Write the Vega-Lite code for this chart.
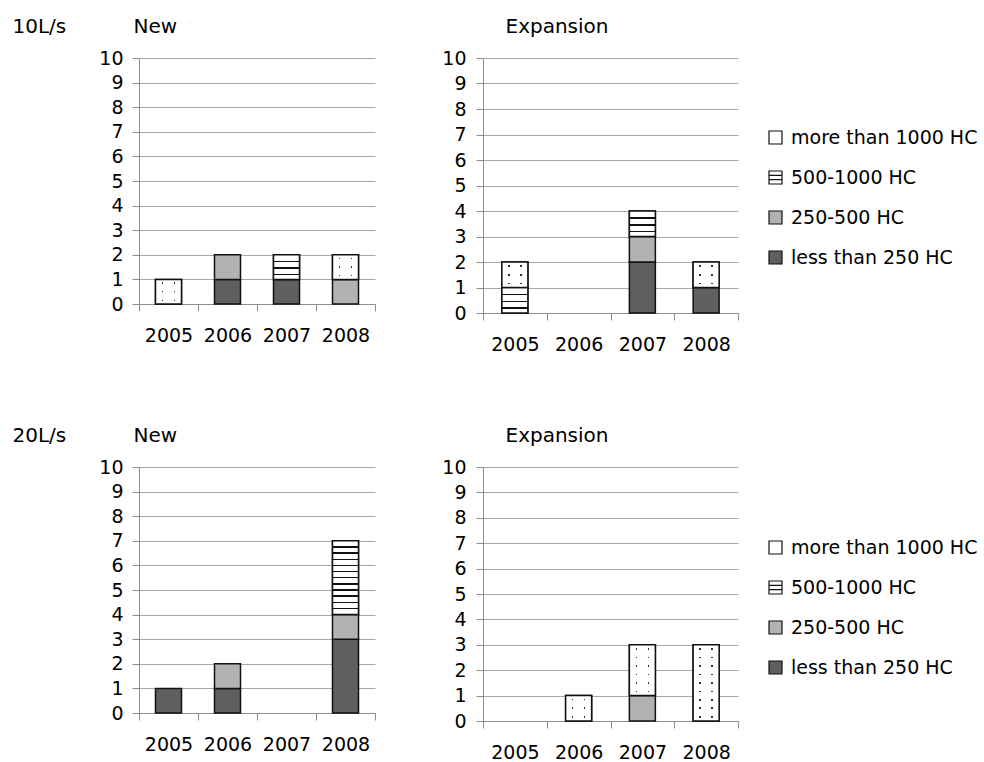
{
  "$schema": "https://vega.github.io/schema/vega-lite/v6.json",
  "padding": {"left": 12, "top": 16, "right": 10, "bottom": 0},
  "autosize": {"type": "pad"},
  "datasets": {
    "counts": [
      {"size": "10L/s", "kind": "New", "year": "2005", "cat": "more than 1000 HC", "n": 1},
      {"size": "10L/s", "kind": "New", "year": "2006", "cat": "less than 250 HC", "n": 1},
      {"size": "10L/s", "kind": "New", "year": "2006", "cat": "250-500 HC", "n": 1},
      {"size": "10L/s", "kind": "New", "year": "2007", "cat": "less than 250 HC", "n": 1},
      {"size": "10L/s", "kind": "New", "year": "2007", "cat": "500-1000 HC", "n": 1},
      {"size": "10L/s", "kind": "New", "year": "2008", "cat": "250-500 HC", "n": 1},
      {"size": "10L/s", "kind": "New", "year": "2008", "cat": "more than 1000 HC", "n": 1},
      {"size": "10L/s", "kind": "Expansion", "year": "2005", "cat": "500-1000 HC", "n": 1},
      {"size": "10L/s", "kind": "Expansion", "year": "2005", "cat": "more than 1000 HC", "n": 1},
      {"size": "10L/s", "kind": "Expansion", "year": "2007", "cat": "less than 250 HC", "n": 2},
      {"size": "10L/s", "kind": "Expansion", "year": "2007", "cat": "250-500 HC", "n": 1},
      {"size": "10L/s", "kind": "Expansion", "year": "2007", "cat": "500-1000 HC", "n": 1},
      {"size": "10L/s", "kind": "Expansion", "year": "2008", "cat": "less than 250 HC", "n": 1},
      {"size": "10L/s", "kind": "Expansion", "year": "2008", "cat": "more than 1000 HC", "n": 1},
      {"size": "20L/s", "kind": "New", "year": "2005", "cat": "less than 250 HC", "n": 1},
      {"size": "20L/s", "kind": "New", "year": "2006", "cat": "less than 250 HC", "n": 1},
      {"size": "20L/s", "kind": "New", "year": "2006", "cat": "250-500 HC", "n": 1},
      {"size": "20L/s", "kind": "New", "year": "2008", "cat": "less than 250 HC", "n": 3},
      {"size": "20L/s", "kind": "New", "year": "2008", "cat": "250-500 HC", "n": 1},
      {"size": "20L/s", "kind": "New", "year": "2008", "cat": "500-1000 HC", "n": 3},
      {"size": "20L/s", "kind": "Expansion", "year": "2006", "cat": "more than 1000 HC", "n": 1},
      {"size": "20L/s", "kind": "Expansion", "year": "2007", "cat": "250-500 HC", "n": 1},
      {"size": "20L/s", "kind": "Expansion", "year": "2007", "cat": "more than 1000 HC", "n": 2},
      {"size": "20L/s", "kind": "Expansion", "year": "2008", "cat": "more than 1000 HC", "n": 3}
    ]
  },
  "columns": 2,
  "bounds": "flush",
  "spacing": {"row": 154, "column": 108},
  "resolve": {
    "scale": {"x": "independent", "y": "independent", "fill": "independent"},
    "legend": {"fill": "independent"}
  },
  "concat": [
    {
      "width": 236,
      "height": 246,
      "data": {"name": "counts"},
      "transform": [
        {"filter": "datum.size == '10L/s' && datum.kind == 'New'"},
        {"calculate": "indexof(['less than 250 HC', '250-500 HC', '500-1000 HC', 'more than 1000 HC'], datum.cat)", "as": "rank"},
        {"stack": "n", "groupby": ["year"], "sort": [{"field": "rank", "order": "ascending"}], "as": ["y0", "y1"]}
      ],
      "encoding": {
        "x": {
          "field": "year", "type": "nominal",
          "scale": {"domain": ["2005", "2006", "2007", "2008"], "paddingInner": 0, "paddingOuter": 0},
          "axis": {"title": "New", "titleX": -6, "titleY": -272, "titleAlign": "left", "titleBaseline": "alphabetic", "labelAngle": 0, "labelPadding": 15, "tickBand": "extent", "grid": false}
        },
        "y": {
          "field": "y0", "type": "quantitative",
          "scale": {"domain": [0, 10], "nice": false},
          "axis": {"title": "10L/s", "titleX": -127, "titleY": -26, "titleAngle": 0, "titleAlign": "left", "titleBaseline": "alphabetic", "values": [0, 1, 2, 3, 4, 5, 6, 7, 8, 9, 10], "labelOverlap": false, "labelPadding": 9, "grid": true}
        },
        "y2": {"field": "y1"}
      },
      "layer": [
        {
          "mark": {"type": "bar", "width": 26, "stroke": "#111111", "strokeWidth": 1.5},
          "encoding": {
            "fill": {
              "field": "cat", "type": "nominal",
              "scale": {"domain": ["more than 1000 HC", "500-1000 HC", "250-500 HC", "less than 250 HC"], "range": ["#ffffff", "#ffffff", "#b2b2b2", "#5f5f5f"]},
              "legend": null
            }
          }
        },
        {
          "transform": [{"filter": "datum.cat == '500-1000 HC'"}],
          "mark": {"type": "bar", "width": 26, "stroke": "#111111", "strokeWidth": 1.5},
          "encoding": {
            "fill": {
              "value": {"gradient": "linear", "x1": 0, "y1": 0, "x2": 0, "y2": 1, "stops": [
                {"offset": 0, "color": "#ffffff"}, {"offset": 0.24, "color": "#ffffff"}, {"offset": 0.24, "color": "#111111"}, {"offset": 0.3, "color": "#111111"}, {"offset": 0.3, "color": "#ffffff"},
                {"offset": 0.51, "color": "#ffffff"}, {"offset": 0.51, "color": "#111111"}, {"offset": 0.57, "color": "#111111"}, {"offset": 0.57, "color": "#ffffff"},
                {"offset": 0.78, "color": "#ffffff"}, {"offset": 0.78, "color": "#111111"}, {"offset": 0.84, "color": "#111111"}, {"offset": 0.84, "color": "#ffffff"},
                {"offset": 1, "color": "#ffffff"}]}
            }
          }
        },
        {
          "transform": [{"filter": "datum.cat == 'more than 1000 HC'"}],
          "mark": {"type": "bar", "width": 26, "strokeWidth": 0},
          "encoding": {
            "fill": {
              "value": {"gradient": "linear", "x1": 0, "y1": 0, "x2": 0, "y2": 1, "stops": [
                {"offset": 0, "color": "#ffffff"}, {"offset": 0.118, "color": "#ffffff"}, {"offset": 0.118, "color": "#333333"}, {"offset": 0.182, "color": "#333333"}, {"offset": 0.182, "color": "#ffffff"},
                {"offset": 0.468, "color": "#ffffff"}, {"offset": 0.468, "color": "#333333"}, {"offset": 0.532, "color": "#333333"}, {"offset": 0.532, "color": "#ffffff"},
                {"offset": 0.818, "color": "#ffffff"}, {"offset": 0.818, "color": "#333333"}, {"offset": 0.882, "color": "#333333"}, {"offset": 0.882, "color": "#ffffff"},
                {"offset": 1, "color": "#ffffff"}]}
            }
          }
        },
        {
          "transform": [{"filter": "datum.cat == 'more than 1000 HC'"}],
          "mark": {"type": "bar", "width": 26, "stroke": "#111111", "strokeWidth": 1.5},
          "encoding": {
            "fill": {
              "value": {"gradient": "linear", "x1": 0, "y1": 0, "x2": 1, "y2": 0, "stops": [
                {"offset": 0, "color": "#ffffff"}, {"offset": 0.24, "color": "#ffffff"}, {"offset": 0.24, "color": "rgba(255,255,255,0)"}, {"offset": 0.3, "color": "rgba(255,255,255,0)"}, {"offset": 0.3, "color": "#ffffff"},
                {"offset": 0.7, "color": "#ffffff"}, {"offset": 0.7, "color": "rgba(255,255,255,0)"}, {"offset": 0.76, "color": "rgba(255,255,255,0)"}, {"offset": 0.76, "color": "#ffffff"},
                {"offset": 1, "color": "#ffffff"}]}
            }
          }
        }
      ]
    },
    {
      "width": 255,
      "height": 255,
      "data": {"name": "counts"},
      "transform": [
        {"filter": "datum.size == '10L/s' && datum.kind == 'Expansion'"},
        {"calculate": "indexof(['less than 250 HC', '250-500 HC', '500-1000 HC', 'more than 1000 HC'], datum.cat)", "as": "rank"},
        {"stack": "n", "groupby": ["year"], "sort": [{"field": "rank", "order": "ascending"}], "as": ["y0", "y1"]}
      ],
      "encoding": {
        "x": {
          "field": "year", "type": "nominal",
          "scale": {"domain": ["2005", "2006", "2007", "2008"], "paddingInner": 0, "paddingOuter": 0},
          "axis": {"title": "Expansion", "titleX": 22, "titleY": -281, "titleAlign": "left", "titleBaseline": "alphabetic", "labelAngle": 0, "labelPadding": 15, "tickBand": "extent", "grid": false}
        },
        "y": {
          "field": "y0", "type": "quantitative",
          "scale": {"domain": [0, 10], "nice": false},
          "axis": {"title": null, "values": [0, 1, 2, 3, 4, 5, 6, 7, 8, 9, 10], "labelOverlap": false, "labelPadding": 10, "grid": true}
        },
        "y2": {"field": "y1"}
      },
      "layer": [
        {
          "mark": {"type": "bar", "width": 26, "stroke": "#111111", "strokeWidth": 1.5},
          "encoding": {
            "fill": {
              "field": "cat", "type": "nominal",
              "scale": {"domain": ["more than 1000 HC", "500-1000 HC", "250-500 HC", "less than 250 HC"], "range": ["#ffffff", "#ffffff", "#b2b2b2", "#5f5f5f"]},
              "legend": {
                "orient": "none", "legendX": 283, "legendY": 70, "title": null,
                "symbolType": "square", "symbolSize": 169, "symbolStrokeColor": "#111111", "symbolStrokeWidth": 1.2,
                "labelFontSize": 19, "labelColor": "#000000", "labelOffset": 6, "labelLimit": 400, "rowPadding": 20,
                "encode": {"symbols": {"update": {
                  "stroke": {"value": "#111111"},
                  "strokeWidth": {"value": 1.2},
                  "shape": {"signal": "datum.value === '500-1000 HC' ? 'M-1,-1H1V1H-1Z M-1,-0.33H1 M-1,0.33H1' : 'square'"}
                }}}
              }
            }
          }
        },
        {
          "transform": [{"filter": "datum.cat == '500-1000 HC'"}],
          "mark": {"type": "bar", "width": 26, "stroke": "#111111", "strokeWidth": 1.5},
          "encoding": {
            "fill": {
              "value": {"gradient": "linear", "x1": 0, "y1": 0, "x2": 0, "y2": 1, "stops": [
                {"offset": 0, "color": "#ffffff"}, {"offset": 0.24, "color": "#ffffff"}, {"offset": 0.24, "color": "#111111"}, {"offset": 0.3, "color": "#111111"}, {"offset": 0.3, "color": "#ffffff"},
                {"offset": 0.51, "color": "#ffffff"}, {"offset": 0.51, "color": "#111111"}, {"offset": 0.57, "color": "#111111"}, {"offset": 0.57, "color": "#ffffff"},
                {"offset": 0.78, "color": "#ffffff"}, {"offset": 0.78, "color": "#111111"}, {"offset": 0.84, "color": "#111111"}, {"offset": 0.84, "color": "#ffffff"},
                {"offset": 1, "color": "#ffffff"}]}
            }
          }
        },
        {
          "transform": [{"filter": "datum.cat == 'more than 1000 HC'"}],
          "mark": {"type": "bar", "width": 26, "strokeWidth": 0},
          "encoding": {
            "fill": {
              "value": {"gradient": "linear", "x1": 0, "y1": 0, "x2": 0, "y2": 1, "stops": [
                {"offset": 0, "color": "#ffffff"}, {"offset": 0.118, "color": "#ffffff"}, {"offset": 0.118, "color": "#333333"}, {"offset": 0.182, "color": "#333333"}, {"offset": 0.182, "color": "#ffffff"},
                {"offset": 0.468, "color": "#ffffff"}, {"offset": 0.468, "color": "#333333"}, {"offset": 0.532, "color": "#333333"}, {"offset": 0.532, "color": "#ffffff"},
                {"offset": 0.818, "color": "#ffffff"}, {"offset": 0.818, "color": "#333333"}, {"offset": 0.882, "color": "#333333"}, {"offset": 0.882, "color": "#ffffff"},
                {"offset": 1, "color": "#ffffff"}]}
            }
          }
        },
        {
          "transform": [{"filter": "datum.cat == 'more than 1000 HC'"}],
          "mark": {"type": "bar", "width": 26, "stroke": "#111111", "strokeWidth": 1.5},
          "encoding": {
            "fill": {
              "value": {"gradient": "linear", "x1": 0, "y1": 0, "x2": 1, "y2": 0, "stops": [
                {"offset": 0, "color": "#ffffff"}, {"offset": 0.24, "color": "#ffffff"}, {"offset": 0.24, "color": "rgba(255,255,255,0)"}, {"offset": 0.3, "color": "rgba(255,255,255,0)"}, {"offset": 0.3, "color": "#ffffff"},
                {"offset": 0.7, "color": "#ffffff"}, {"offset": 0.7, "color": "rgba(255,255,255,0)"}, {"offset": 0.76, "color": "rgba(255,255,255,0)"}, {"offset": 0.76, "color": "#ffffff"},
                {"offset": 1, "color": "#ffffff"}]}
            }
          }
        }
      ]
    },
    {
      "width": 236,
      "height": 246,
      "data": {"name": "counts"},
      "transform": [
        {"filter": "datum.size == '20L/s' && datum.kind == 'New'"},
        {"calculate": "indexof(['less than 250 HC', '250-500 HC', '500-1000 HC', 'more than 1000 HC'], datum.cat)", "as": "rank"},
        {"stack": "n", "groupby": ["year"], "sort": [{"field": "rank", "order": "ascending"}], "as": ["y0", "y1"]}
      ],
      "encoding": {
        "x": {
          "field": "year", "type": "nominal",
          "scale": {"domain": ["2005", "2006", "2007", "2008"], "paddingInner": 0, "paddingOuter": 0},
          "axis": {"title": "New", "titleX": -6, "titleY": -272, "titleAlign": "left", "titleBaseline": "alphabetic", "labelAngle": 0, "labelPadding": 15, "tickBand": "extent", "grid": false}
        },
        "y": {
          "field": "y0", "type": "quantitative",
          "scale": {"domain": [0, 10], "nice": false},
          "axis": {"title": "20L/s", "titleX": -127, "titleY": -26, "titleAngle": 0, "titleAlign": "left", "titleBaseline": "alphabetic", "values": [0, 1, 2, 3, 4, 5, 6, 7, 8, 9, 10], "labelOverlap": false, "labelPadding": 9, "grid": true}
        },
        "y2": {"field": "y1"}
      },
      "layer": [
        {
          "mark": {"type": "bar", "width": 26, "stroke": "#111111", "strokeWidth": 1.5},
          "encoding": {
            "fill": {
              "field": "cat", "type": "nominal",
              "scale": {"domain": ["more than 1000 HC", "500-1000 HC", "250-500 HC", "less than 250 HC"], "range": ["#ffffff", "#ffffff", "#b2b2b2", "#5f5f5f"]},
              "legend": null
            }
          }
        },
        {
          "transform": [{"filter": "datum.cat == '500-1000 HC'"}],
          "mark": {"type": "bar", "width": 26, "stroke": "#111111", "strokeWidth": 1.5},
          "encoding": {
            "fill": {
              "condition": {"test": "datum.n >= 3", "value": {"gradient": "linear", "x1": 0, "y1": 0, "x2": 0, "y2": 1, "stops": [
                {"offset": 0, "color": "#ffffff"}, {"offset": 0.0733, "color": "#ffffff"}, {"offset": 0.0733, "color": "#111111"}, {"offset": 0.0933, "color": "#111111"}, {"offset": 0.0933, "color": "#ffffff"},
                {"offset": 0.1567, "color": "#ffffff"}, {"offset": 0.1567, "color": "#111111"}, {"offset": 0.1767, "color": "#111111"}, {"offset": 0.1767, "color": "#ffffff"},
                {"offset": 0.24, "color": "#ffffff"}, {"offset": 0.24, "color": "#111111"}, {"offset": 0.26, "color": "#111111"}, {"offset": 0.26, "color": "#ffffff"},
                {"offset": 0.3233, "color": "#ffffff"}, {"offset": 0.3233, "color": "#111111"}, {"offset": 0.3433, "color": "#111111"}, {"offset": 0.3433, "color": "#ffffff"},
                {"offset": 0.4067, "color": "#ffffff"}, {"offset": 0.4067, "color": "#111111"}, {"offset": 0.4267, "color": "#111111"}, {"offset": 0.4267, "color": "#ffffff"},
                {"offset": 0.49, "color": "#ffffff"}, {"offset": 0.49, "color": "#111111"}, {"offset": 0.51, "color": "#111111"}, {"offset": 0.51, "color": "#ffffff"},
                {"offset": 0.5733, "color": "#ffffff"}, {"offset": 0.5733, "color": "#111111"}, {"offset": 0.5933, "color": "#111111"}, {"offset": 0.5933, "color": "#ffffff"},
                {"offset": 0.6567, "color": "#ffffff"}, {"offset": 0.6567, "color": "#111111"}, {"offset": 0.6767, "color": "#111111"}, {"offset": 0.6767, "color": "#ffffff"},
                {"offset": 0.74, "color": "#ffffff"}, {"offset": 0.74, "color": "#111111"}, {"offset": 0.76, "color": "#111111"}, {"offset": 0.76, "color": "#ffffff"},
                {"offset": 0.8233, "color": "#ffffff"}, {"offset": 0.8233, "color": "#111111"}, {"offset": 0.8433, "color": "#111111"}, {"offset": 0.8433, "color": "#ffffff"},
                {"offset": 0.9067, "color": "#ffffff"}, {"offset": 0.9067, "color": "#111111"}, {"offset": 0.9267, "color": "#111111"}, {"offset": 0.9267, "color": "#ffffff"},
                {"offset": 1, "color": "#ffffff"}]}},
              "value": {"gradient": "linear", "x1": 0, "y1": 0, "x2": 0, "y2": 1, "stops": [
                {"offset": 0, "color": "#ffffff"}, {"offset": 0.24, "color": "#ffffff"}, {"offset": 0.24, "color": "#111111"}, {"offset": 0.3, "color": "#111111"}, {"offset": 0.3, "color": "#ffffff"},
                {"offset": 0.51, "color": "#ffffff"}, {"offset": 0.51, "color": "#111111"}, {"offset": 0.57, "color": "#111111"}, {"offset": 0.57, "color": "#ffffff"},
                {"offset": 0.78, "color": "#ffffff"}, {"offset": 0.78, "color": "#111111"}, {"offset": 0.84, "color": "#111111"}, {"offset": 0.84, "color": "#ffffff"},
                {"offset": 1, "color": "#ffffff"}]}
            }
          }
        }
      ]
    },
    {
      "width": 255,
      "height": 254,
      "data": {"name": "counts"},
      "transform": [
        {"filter": "datum.size == '20L/s' && datum.kind == 'Expansion'"},
        {"calculate": "indexof(['less than 250 HC', '250-500 HC', '500-1000 HC', 'more than 1000 HC'], datum.cat)", "as": "rank"},
        {"stack": "n", "groupby": ["year"], "sort": [{"field": "rank", "order": "ascending"}], "as": ["y0", "y1"]}
      ],
      "encoding": {
        "x": {
          "field": "year", "type": "nominal",
          "scale": {"domain": ["2005", "2006", "2007", "2008"], "paddingInner": 0, "paddingOuter": 0},
          "axis": {"title": "Expansion", "titleX": 22, "titleY": -280, "titleAlign": "left", "titleBaseline": "alphabetic", "labelAngle": 0, "labelPadding": 15, "tickBand": "extent", "grid": false}
        },
        "y": {
          "field": "y0", "type": "quantitative",
          "scale": {"domain": [0, 10], "nice": false},
          "axis": {"title": null, "values": [0, 1, 2, 3, 4, 5, 6, 7, 8, 9, 10], "labelOverlap": false, "labelPadding": 10, "grid": true}
        },
        "y2": {"field": "y1"}
      },
      "layer": [
        {
          "mark": {"type": "bar", "width": 26, "stroke": "#111111", "strokeWidth": 1.5},
          "encoding": {
            "fill": {
              "field": "cat", "type": "nominal",
              "scale": {"domain": ["more than 1000 HC", "500-1000 HC", "250-500 HC", "less than 250 HC"], "range": ["#ffffff", "#ffffff", "#b2b2b2", "#5f5f5f"]},
              "legend": {
                "orient": "none", "legendX": 283, "legendY": 71, "title": null,
                "symbolType": "square", "symbolSize": 169, "symbolStrokeColor": "#111111", "symbolStrokeWidth": 1.2,
                "labelFontSize": 19, "labelColor": "#000000", "labelOffset": 6, "labelLimit": 400, "rowPadding": 20,
                "encode": {"symbols": {"update": {
                  "stroke": {"value": "#111111"},
                  "strokeWidth": {"value": 1.2},
                  "shape": {"signal": "datum.value === '500-1000 HC' ? 'M-1,-1H1V1H-1Z M-1,-0.33H1 M-1,0.33H1' : 'square'"}
                }}}
              }
            }
          }
        },
        {
          "transform": [{"filter": "datum.cat == 'more than 1000 HC'"}],
          "mark": {"type": "bar", "width": 26, "strokeWidth": 0},
          "encoding": {
            "fill": {
              "condition": [
                {"test": "datum.n >= 3", "value": {"gradient": "linear", "x1": 0, "y1": 0, "x2": 0, "y2": 1, "stops": [
                  {"offset": 0, "color": "#ffffff"},
                  {"offset": 0.0446, "color": "#ffffff"}, {"offset": 0.0446, "color": "#333333"}, {"offset": 0.0666, "color": "#333333"}, {"offset": 0.0666, "color": "#ffffff"},
                  {"offset": 0.1557, "color": "#ffffff"}, {"offset": 0.1557, "color": "#333333"}, {"offset": 0.1777, "color": "#333333"}, {"offset": 0.1777, "color": "#ffffff"},
                  {"offset": 0.2668, "color": "#ffffff"}, {"offset": 0.2668, "color": "#333333"}, {"offset": 0.2888, "color": "#333333"}, {"offset": 0.2888, "color": "#ffffff"},
                  {"offset": 0.3779, "color": "#ffffff"}, {"offset": 0.3779, "color": "#333333"}, {"offset": 0.3999, "color": "#333333"}, {"offset": 0.3999, "color": "#ffffff"},
                  {"offset": 0.489, "color": "#ffffff"}, {"offset": 0.489, "color": "#333333"}, {"offset": 0.511, "color": "#333333"}, {"offset": 0.511, "color": "#ffffff"},
                  {"offset": 0.6001, "color": "#ffffff"}, {"offset": 0.6001, "color": "#333333"}, {"offset": 0.6221, "color": "#333333"}, {"offset": 0.6221, "color": "#ffffff"},
                  {"offset": 0.7112, "color": "#ffffff"}, {"offset": 0.7112, "color": "#333333"}, {"offset": 0.7332, "color": "#333333"}, {"offset": 0.7332, "color": "#ffffff"},
                  {"offset": 0.8223, "color": "#ffffff"}, {"offset": 0.8223, "color": "#333333"}, {"offset": 0.8443, "color": "#333333"}, {"offset": 0.8443, "color": "#ffffff"},
                  {"offset": 0.9334, "color": "#ffffff"}, {"offset": 0.9334, "color": "#333333"}, {"offset": 0.9554, "color": "#333333"}, {"offset": 0.9554, "color": "#ffffff"},
                  {"offset": 1, "color": "#ffffff"}]}},
                {"test": "datum.n == 2", "value": {"gradient": "linear", "x1": 0, "y1": 0, "x2": 0, "y2": 1, "stops": [
                  {"offset": 0, "color": "#ffffff"},
                  {"offset": 0.0673, "color": "#ffffff"}, {"offset": 0.0673, "color": "#333333"}, {"offset": 0.0993, "color": "#333333"}, {"offset": 0.0993, "color": "#ffffff"},
                  {"offset": 0.234, "color": "#ffffff"}, {"offset": 0.234, "color": "#333333"}, {"offset": 0.266, "color": "#333333"}, {"offset": 0.266, "color": "#ffffff"},
                  {"offset": 0.4007, "color": "#ffffff"}, {"offset": 0.4007, "color": "#333333"}, {"offset": 0.4327, "color": "#333333"}, {"offset": 0.4327, "color": "#ffffff"},
                  {"offset": 0.5673, "color": "#ffffff"}, {"offset": 0.5673, "color": "#333333"}, {"offset": 0.5993, "color": "#333333"}, {"offset": 0.5993, "color": "#ffffff"},
                  {"offset": 0.734, "color": "#ffffff"}, {"offset": 0.734, "color": "#333333"}, {"offset": 0.766, "color": "#333333"}, {"offset": 0.766, "color": "#ffffff"},
                  {"offset": 0.9007, "color": "#ffffff"}, {"offset": 0.9007, "color": "#333333"}, {"offset": 0.9327, "color": "#333333"}, {"offset": 0.9327, "color": "#ffffff"},
                  {"offset": 1, "color": "#ffffff"}]}}
              ],
              "value": {"gradient": "linear", "x1": 0, "y1": 0, "x2": 0, "y2": 1, "stops": [
                {"offset": 0, "color": "#ffffff"}, {"offset": 0.118, "color": "#ffffff"}, {"offset": 0.118, "color": "#333333"}, {"offset": 0.182, "color": "#333333"}, {"offset": 0.182, "color": "#ffffff"},
                {"offset": 0.468, "color": "#ffffff"}, {"offset": 0.468, "color": "#333333"}, {"offset": 0.532, "color": "#333333"}, {"offset": 0.532, "color": "#ffffff"},
                {"offset": 0.818, "color": "#ffffff"}, {"offset": 0.818, "color": "#333333"}, {"offset": 0.882, "color": "#333333"}, {"offset": 0.882, "color": "#ffffff"},
                {"offset": 1, "color": "#ffffff"}]}
            }
          }
        },
        {
          "transform": [{"filter": "datum.cat == 'more than 1000 HC'"}],
          "mark": {"type": "bar", "width": 26, "stroke": "#111111", "strokeWidth": 1.5},
          "encoding": {
            "fill": {
              "value": {"gradient": "linear", "x1": 0, "y1": 0, "x2": 1, "y2": 0, "stops": [
                {"offset": 0, "color": "#ffffff"}, {"offset": 0.24, "color": "#ffffff"}, {"offset": 0.24, "color": "rgba(255,255,255,0)"}, {"offset": 0.3, "color": "rgba(255,255,255,0)"}, {"offset": 0.3, "color": "#ffffff"},
                {"offset": 0.7, "color": "#ffffff"}, {"offset": 0.7, "color": "rgba(255,255,255,0)"}, {"offset": 0.76, "color": "rgba(255,255,255,0)"}, {"offset": 0.76, "color": "#ffffff"},
                {"offset": 1, "color": "#ffffff"}]}
            }
          }
        }
      ]
    }
  ],
  "config": {
    "font": "DejaVu Sans",
    "view": {"stroke": null},
    "axis": {
      "labelFontSize": 19, "labelColor": "#000000", "labelFont": "DejaVu Sans",
      "titleFontSize": 20, "titleColor": "#000000", "titleFontWeight": "normal", "titleFont": "DejaVu Sans",
      "domainColor": "#8c8c8c", "domainWidth": 1, "tickColor": "#8c8c8c", "tickWidth": 1, "tickSize": 7,
      "gridColor": "#a8a8a8", "gridWidth": 1
    },
    "legend": {"labelFont": "DejaVu Sans"}
  }
}
